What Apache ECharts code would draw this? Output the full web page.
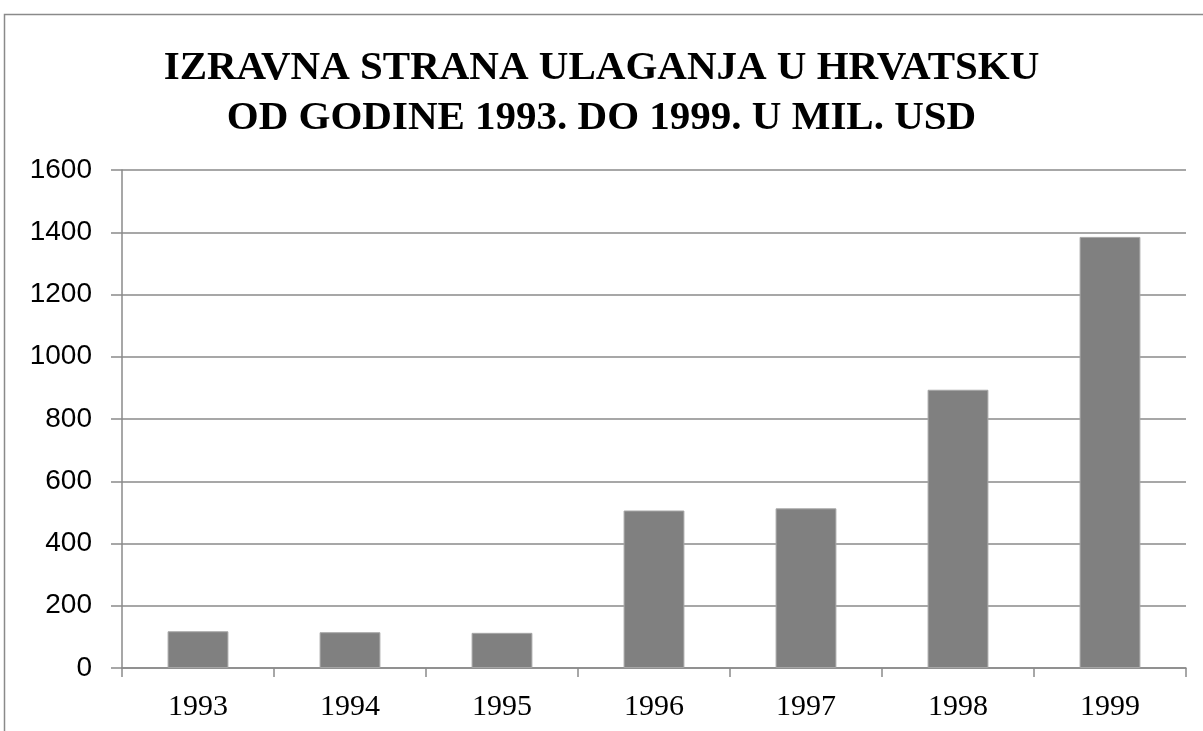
<!DOCTYPE html>
<html>
<head>
<meta charset="utf-8">
<script src="https://cdn.jsdelivr.net/npm/echarts@6/dist/echarts.min.js"></script>
<style>html,body{margin:0;padding:0;background:#fff;}#c{width:1203px;height:731px;}</style>
</head>
<body>
<div id="c"></div>
<script>
const titleText = 'IZRAVNA STRANA ULAGANJA U HRVATSKU\nOD GODINE 1993. DO 1999. U MIL. USD';
const categories = ['1993', '1994', '1995', '1996', '1997', '1998', '1999'];
const values = [118, 115, 113, 506, 513, 894, 1385];
const yMin = 0, yMax = 1600, yStep = 200;

const chart = echarts.init(document.getElementById('c'), null, {renderer: 'canvas'});
chart.setOption({
  animation: false,
  backgroundColor: '#fff',
  graphic: [{
    type: 'rect', silent: true, z: -1,
    shape: {x: 4.5, y: 14.5, width: 1400, height: 1000},
    style: {fill: 'none', stroke: '#8a8a8a', lineWidth: 1.5}
  }],
  title: {
    text: titleText,
    left: 'center',
    top: 38,
    textStyle: {fontFamily: 'Liberation Serif', fontWeight: 'bold', fontSize: 41, lineHeight: 50, color: '#000'}
  },
  grid: {left: 122, right: 17, top: 170, bottom: 63, containLabel: false},
  xAxis: {
    type: 'category',
    data: categories,
    axisLine: {show: true, lineStyle: {color: '#8a8a8a', width: 1.5}},
    axisTick: {show: true, alignWithLabel: false, length: 9, lineStyle: {color: '#8a8a8a', width: 1.5}},
    axisLabel: {fontFamily: 'Liberation Serif', fontSize: 30, color: '#000', margin: 24},
    splitLine: {show: false}
  },
  yAxis: {
    type: 'value',
    min: yMin, max: yMax, interval: yStep,
    axisLine: {show: true, lineStyle: {color: '#8a8a8a', width: 1.5}},
    axisTick: {show: true, length: 11, lineStyle: {color: '#8a8a8a', width: 1.5}},
    axisLabel: {fontFamily: 'Liberation Sans', fontSize: 28, color: '#000', margin: 30, formatter: function (v) { return String(v); }},
    splitLine: {show: true, lineStyle: {color: '#8a8a8a', width: 1.5}}
  },
  series: [{
    type: 'bar',
    data: values,
    barCategoryGap: '60%',
    itemStyle: {color: '#808080', borderColor: '#a6a6a6', borderWidth: 1}
  }]
});
</script>
</body>
</html>
